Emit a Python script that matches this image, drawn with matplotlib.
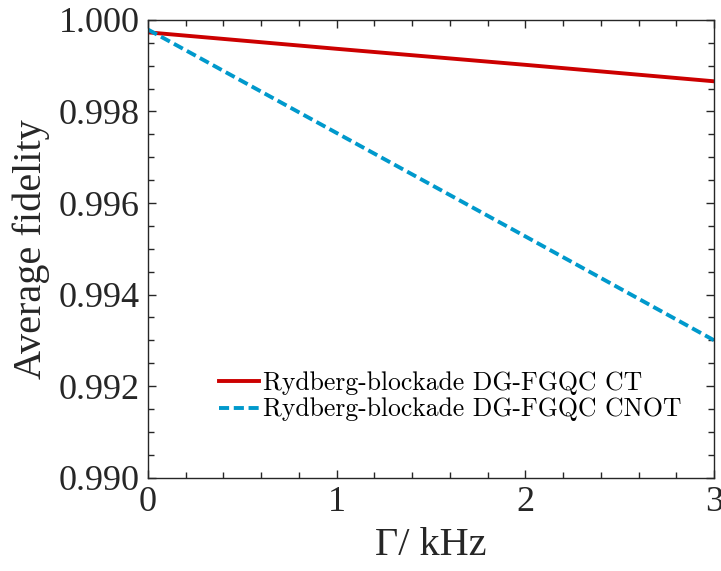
import numpy as np
import matplotlib.pyplot as plt
from matplotlib.ticker import MultipleLocator

# Data
gamma = [0, 1, 2, 3]  # kHz
fid_ct = [0.99973, 0.99937, 0.99902, 0.99866]
fid_cnot = [0.99979, 0.99753, 0.99527, 0.99300]

plt.rcParams['font.family'] = ['Liberation Serif', 'DejaVu Serif']

fig = plt.figure(figsize=(7.21, 5.71), dpi=100)
ax = fig.add_axes([0.2053, 0.1637, 0.785, 0.8013])

ax.plot(gamma, fid_ct, color='#CC0000', lw=2.8, label='Rydberg-blockade DG-FGQC CT')
ax.plot(gamma, fid_cnot, color='#0099CC', lw=2.8, linestyle=(0, (2.6, 1.2)),
        label='Rydberg-blockade DG-FGQC CNOT')

ax.set_xlim(0, 3)
ax.set_ylim(0.990, 1.000)
ax.xaxis.set_major_locator(MultipleLocator(1))
ax.xaxis.set_minor_locator(MultipleLocator(0.2))
ax.yaxis.set_major_locator(MultipleLocator(0.002))
ax.yaxis.set_minor_locator(MultipleLocator(0.0005))
ax.yaxis.set_major_formatter(plt.FormatStrFormatter('%.3f'))

ax.tick_params(which='both', direction='in', top=True, right=True, labelsize=26,
               color='#262626', labelcolor='#262626')
ax.tick_params(which='major', length=6, width=1, pad=6)
ax.tick_params(which='minor', length=4, width=1)
for s in ax.spines.values():
    s.set_color('#262626')
    s.set_linewidth(1)

ax.set_xlabel('Γ/ kHz', fontsize=29, color='#262626', labelpad=6)
ax.set_ylabel('Average fidelity', fontsize=29, color='#262626', labelpad=6)

leg = ax.legend(loc='lower left', bbox_to_anchor=(0.108, 0.1), frameon=False,
                prop={'family': 'cmr10', 'size': 18.5},
                handlelength=1.55, handletextpad=0.15, labelspacing=0.1, borderaxespad=0)

fig.savefig('out.png', dpi=100)
